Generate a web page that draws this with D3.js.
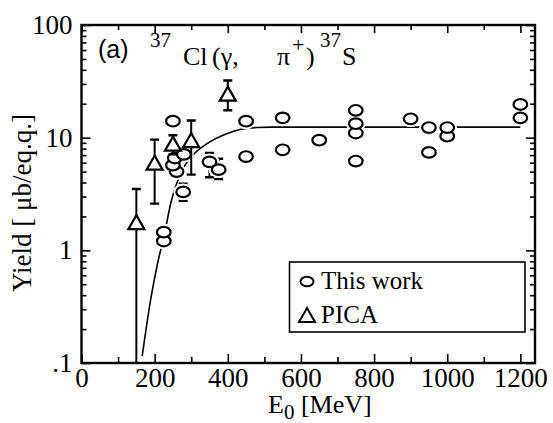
<!DOCTYPE html>
<html>
<head>
<meta charset="utf-8">
<script src="https://cdn.jsdelivr.net/npm/d3@7"></script>
<style>
  html, body { margin: 0; padding: 0; background: #fff; }
  svg { display: block; }
  text { fill: #000; }
</style>
</head>
<body>
<svg id="chart" width="553" height="423"></svg>
<script>
// ---- data ---------------------------------------------------------------
// This work: photon energy E0 [MeV] and yield [µb/eq.q.]
const workEnergy = [225, 225, 250, 255, 280, 250, 260, 278, 350, 375, 450, 450, 550, 550, 650, 750, 750, 750, 750, 900, 950, 950, 1000, 1000, 1200, 1200];
const workYield  = [1.21, 1.45, 14.0, 6.6, 7.1, 5.7, 5.0, 3.3, 6.1, 5.2, 14.0, 6.8, 15.0, 7.8, 9.5, 17.5, 13.3, 11.0, 6.2, 14.7, 12.3, 7.4, 12.3, 10.3, 19.7, 15.0];
// error bars on a few of the measured points (E0, low, high)
const workErrEnergy = [278, 350, 375];
const workErrLow    = [2.75, 4.45, 4.3];
const workErrHigh   = [3.9, 7.3, 6.5];

// PICA calculation with its uncertainties
const picaEnergy = [150, 200, 250, 300, 400];
const picaYield  = [1.78, 6.0, 8.85, 9.5, 24.6];
const picaLow    = [0.01, 2.6, 7.1, 4.7, 17.5];
const picaHigh   = [3.5, 9.6, 10.5, 14.2, 32.2];

// smooth trend curve through the measured yields
const fitEnergy = [166, 190, 210, 225, 245, 260, 280, 310, 346, 390, 433, 480, 520, 700, 900, 1200];
const fitYield  = [0.115, 0.38, 0.82, 1.3, 2.7, 3.9, 5.5, 7.3, 8.96, 10.6, 11.8, 12.3, 12.4, 12.4, 12.4, 12.4];

// axis ticks
const xMajorTicks = [0, 200, 400, 600, 800, 1000, 1200];
const xMinorTicks = [100, 300, 500, 700, 900, 1100];
const yMajorTicks = [0.1, 1, 10, 100];
const yTickLabels = [".1", "1", "10", "100"];

// ---- layout -------------------------------------------------------------
const svg = d3.select("#chart");
const L = 81.5, R = 535, T = 25, B = 363;
const serif = "'Liberation Serif', 'Times New Roman', serif";
const sans = "'Liberation Sans', Arial, sans-serif";

const x = d3.scaleLinear().domain([0, 1240]).range([L, R]);
const y = d3.scaleLog().domain([0.1, 100]).range([B, T]).clamp(true);

const yMinorTicks = [];
[0.1, 1, 10].forEach(d => { for (let k = 2; k <= 9; k++) yMinorTicks.push(d * k); });

// ---- axes ---------------------------------------------------------------
const axisFont = 27;
function styleAxis(g) {
  g.select(".domain").remove();
  g.selectAll(".tick line").attr("stroke", "#000").attr("stroke-width", 1.6);
  g.selectAll(".tick text").attr("font-family", serif).attr("font-size", axisFont).attr("fill", "#000");
}

svg.append("g").attr("transform", `translate(0,${B})`)
  .call(d3.axisBottom(x).tickValues(xMajorTicks).tickSize(-9).tickPadding(5).tickFormat(d3.format("d")))
  .call(styleAxis);
svg.append("g").attr("transform", `translate(0,${B})`)
  .call(d3.axisBottom(x).tickValues(xMinorTicks).tickSize(-6).tickFormat(""))
  .call(styleAxis);
svg.append("g").attr("transform", `translate(0,${T})`)
  .call(d3.axisTop(x).tickValues(xMajorTicks).tickSize(-8).tickFormat(""))
  .call(styleAxis);
svg.append("g").attr("transform", `translate(0,${T})`)
  .call(d3.axisTop(x).tickValues(xMinorTicks).tickSize(-5).tickFormat(""))
  .call(styleAxis);

svg.append("g").attr("transform", `translate(${L},0)`)
  .call(d3.axisLeft(y).tickValues(yMajorTicks).tickSize(-9).tickPadding(9)
    .tickFormat((d, i) => yTickLabels[i]))
  .call(styleAxis);
svg.append("g").attr("transform", `translate(${L},0)`)
  .call(d3.axisLeft(y).tickValues(yMinorTicks).tickSize(-5).tickFormat(""))
  .call(styleAxis);
svg.append("g").attr("transform", `translate(${R},0)`)
  .call(d3.axisRight(y).tickValues(yMajorTicks).tickSize(-9).tickFormat(""))
  .call(styleAxis);
svg.append("g").attr("transform", `translate(${R},0)`)
  .call(d3.axisRight(y).tickValues(yMinorTicks).tickSize(-5).tickFormat(""))
  .call(styleAxis);

// frame
svg.append("rect").attr("x", L).attr("y", T).attr("width", R - L).attr("height", B - T)
  .attr("fill", "none").attr("stroke", "#000").attr("stroke-width", 2.4);

// ---- axis titles --------------------------------------------------------
const xt = svg.append("text").attr("x", 268).attr("y", 413)
  .attr("font-family", serif).attr("font-size", 26);
xt.append("tspan").text("E");
xt.append("tspan").attr("dy", 6).attr("font-size", 21).text("0");
xt.append("tspan").attr("dy", -6).text(" [MeV]");

svg.append("text")
  .attr("transform", `translate(31,203) rotate(-90)`)
  .attr("text-anchor", "middle")
  .attr("font-family", serif).attr("font-size", 27)
  .text("Yield [ μb/eq.q.]");

// ---- panel label --------------------------------------------------------
svg.append("text").attr("x", 98).attr("y", 58)
  .attr("font-family", sans).attr("font-size", 25).text("(a)");
const tt = svg.append("text").attr("font-family", serif).attr("font-size", 26);
tt.append("tspan").attr("x", 150).attr("y", 47).attr("font-size", 21).text("37");
tt.append("tspan").attr("x", 183).attr("y", 65).text("Cl");
tt.append("tspan").attr("x", 212).attr("y", 65).text("(γ,");
tt.append("tspan").attr("x", 277).attr("y", 65).text("π");
tt.append("tspan").attr("x", 292).attr("y", 52).attr("font-size", 22).text("+");
tt.append("tspan").attr("x", 306).attr("y", 65).text(")");
tt.append("tspan").attr("x", 320).attr("y", 47).attr("font-size", 21).text("37");
tt.append("tspan").attr("x", 342).attr("y", 65).text("S");

// ---- plot contents ------------------------------------------------------
const plot = svg.append("g");
plot.append("clipPath").attr("id", "clip")
  .append("rect").attr("x", L).attr("y", T).attr("width", R - L).attr("height", B - T);
const body = plot.append("g").attr("clip-path", "url(#clip)");

// trend curve
const fitPts = fitEnergy.map((e, i) => [x(e), y(fitYield[i])]);
body.append("path").attr("d", d3.line().curve(d3.curveMonotoneX)(fitPts))
  .attr("fill", "none").attr("stroke", "#000").attr("stroke-width", 1.6);

const capW = 4.5;
function errorBar(g, e, lo, hi) {
  const cx = x(e);
  g.append("line").attr("x1", cx).attr("x2", cx).attr("y1", y(lo)).attr("y2", y(hi))
    .attr("stroke", "#000").attr("stroke-width", 2);
  [lo, hi].forEach(v => {
    if (v > y.domain()[0]) {
      g.append("line").attr("x1", cx - capW).attr("x2", cx + capW).attr("y1", y(v)).attr("y2", y(v))
        .attr("stroke", "#000").attr("stroke-width", 2.4);
    }
  });
}

// error bars of this work
workErrEnergy.forEach((e, i) => errorBar(body, e, workErrLow[i], workErrHigh[i]));

// this work: open ellipses, lower points first so higher ones sit on top
const order = d3.range(workEnergy.length).sort((a, b) => workYield[a] - workYield[b]);
const rx = 6.8, ry = 5.3;
body.selectAll("ellipse.halo").data(order).join("ellipse").attr("class", "halo")
  .attr("cx", i => x(workEnergy[i])).attr("cy", i => y(workYield[i]))
  .attr("rx", rx + 3).attr("ry", ry + 3).attr("fill", "#fff");
order.forEach(i => {
  body.append("ellipse")
    .attr("cx", x(workEnergy[i])).attr("cy", y(workYield[i]))
    .attr("rx", rx).attr("ry", ry)
    .attr("fill", "#fff").attr("stroke", "#000").attr("stroke-width", 2.2);
});

// PICA: error bars and open triangles
const triW = 16, triH = 14;
function triangle(cx, cy) {
  return `M${cx},${cy - triH / 2}L${cx + triW / 2},${cy + triH / 2}L${cx - triW / 2},${cy + triH / 2}Z`;
}
picaEnergy.forEach((e, i) => errorBar(body, e, picaLow[i], picaHigh[i]));
body.selectAll("path.pica").data(picaEnergy).join("path").attr("class", "pica")
  .attr("d", (e, i) => triangle(x(e), y(picaYield[i])))
  .attr("fill", "#fff").attr("stroke", "#000").attr("stroke-width", 2.2)
  .attr("stroke-linejoin", "miter");

// ---- legend -------------------------------------------------------------
const lg = svg.append("g");
lg.append("rect").attr("x", 289.5).attr("y", 262).attr("width", 235.5).attr("height", 70)
  .attr("fill", "#fff").attr("stroke", "#000").attr("stroke-width", 1.6);
lg.append("ellipse").attr("cx", 307).attr("cy", 281.5).attr("rx", 6.5).attr("ry", 4.8)
  .attr("fill", "#fff").attr("stroke", "#000").attr("stroke-width", 2);
lg.append("path").attr("d", triangle(307, 315)).attr("fill", "#fff")
  .attr("stroke", "#000").attr("stroke-width", 2);
lg.append("text").attr("x", 321).attr("y", 289).attr("font-family", serif).attr("font-size", 25).text("This work");
lg.append("text").attr("x", 321).attr("y", 323).attr("font-family", serif).attr("font-size", 25).text("PICA");
</script>
</body>
</html>
